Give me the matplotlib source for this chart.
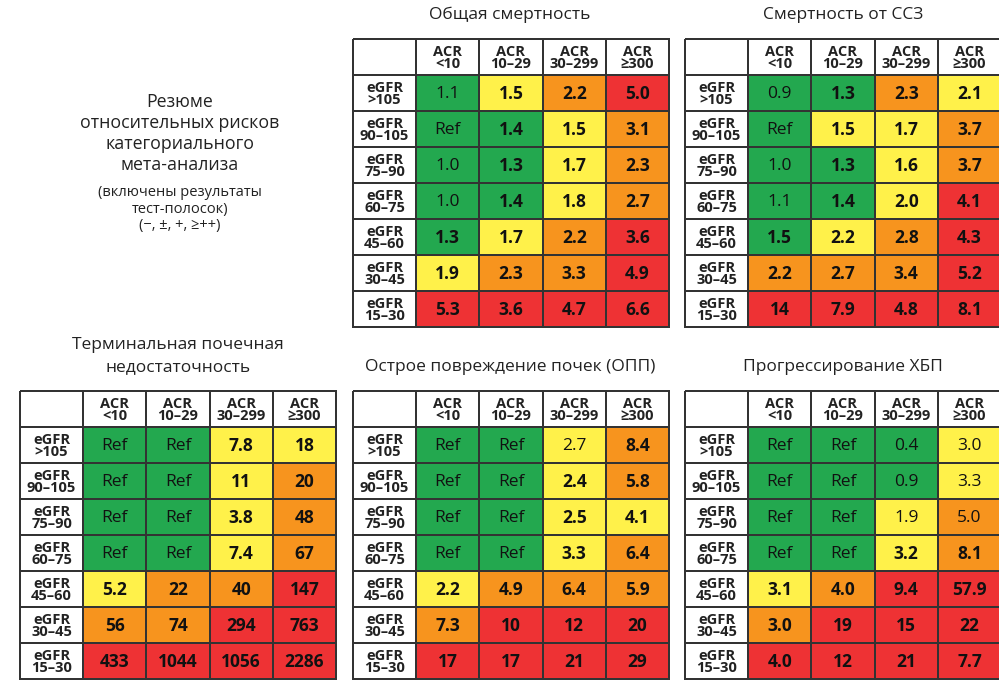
import numpy as np
import matplotlib.pyplot as plt
from matplotlib.colors import ListedColormap

plt.rcParams['font.family'] = ['Open Sans', 'DejaVu Sans']

# column / row headers
acr_labels = ['ACR\n<10', 'ACR\n10–29', 'ACR\n30–299', 'ACR\n≥300']
egfr_labels = ['eGFR\n>105', 'eGFR\n90–105', 'eGFR\n75–90', 'eGFR\n60–75',
               'eGFR\n45–60', 'eGFR\n30–45', 'eGFR\n15–30']

# Общая смертность
mort_vals = [['1.1', '1.5', '2.2', '5.0'],
             ['Ref', '1.4', '1.5', '3.1'],
             ['1.0', '1.3', '1.7', '2.3'],
             ['1.0', '1.4', '1.8', '2.7'],
             ['1.3', '1.7', '2.2', '3.6'],
             ['1.9', '2.3', '3.3', '4.9'],
             ['5.3', '3.6', '4.7', '6.6']]
mort_cols = ['GYOR', 'GGYO', 'GGYO', 'GGYO', 'GYOR', 'YOOR', 'RRRR']
mort_bold = ['0111', '0111', '0111', '0111', '1111', '1111', '1111']

# Смертность от ССЗ
cvd_vals = [['0.9', '1.3', '2.3', '2.1'],
            ['Ref', '1.5', '1.7', '3.7'],
            ['1.0', '1.3', '1.6', '3.7'],
            ['1.1', '1.4', '2.0', '4.1'],
            ['1.5', '2.2', '2.8', '4.3'],
            ['2.2', '2.7', '3.4', '5.2'],
            ['14', '7.9', '4.8', '8.1']]
cvd_cols = ['GGOY', 'GYYO', 'GGYO', 'GGYR', 'GYOR', 'OOOR', 'RRRR']
cvd_bold = ['0111', '0111', '0111', '0111', '1111', '1111', '1111']

# Терминальная почечная недостаточность
esrd_vals = [['Ref', 'Ref', '7.8', '18'],
             ['Ref', 'Ref', '11', '20'],
             ['Ref', 'Ref', '3.8', '48'],
             ['Ref', 'Ref', '7.4', '67'],
             ['5.2', '22', '40', '147'],
             ['56', '74', '294', '763'],
             ['433', '1044', '1056', '2286']]
esrd_cols = ['GGYY', 'GGYO', 'GGYO', 'GGYO', 'YOOR', 'OORR', 'RRRR']
esrd_bold = ['0011', '0011', '0011', '0011', '1111', '1111', '1111']

# Острое повреждение почек (ОПП)
aki_vals = [['Ref', 'Ref', '2.7', '8.4'],
            ['Ref', 'Ref', '2.4', '5.8'],
            ['Ref', 'Ref', '2.5', '4.1'],
            ['Ref', 'Ref', '3.3', '6.4'],
            ['2.2', '4.9', '6.4', '5.9'],
            ['7.3', '10', '12', '20'],
            ['17', '17', '21', '29']]
aki_cols = ['GGYO', 'GGYO', 'GGYY', 'GGYO', 'YOOO', 'ORRR', 'RRRR']
aki_bold = ['0001', '0011', '0011', '0011', '1111', '1111', '1111']

# Прогрессирование ХБП
ckd_vals = [['Ref', 'Ref', '0.4', '3.0'],
            ['Ref', 'Ref', '0.9', '3.3'],
            ['Ref', 'Ref', '1.9', '5.0'],
            ['Ref', 'Ref', '3.2', '8.1'],
            ['3.1', '4.0', '9.4', '57.9'],
            ['3.0', '19', '15', '22'],
            ['4.0', '12', '21', '7.7']]
ckd_cols = ['GGGY', 'GGGY', 'GGYO', 'GGYO', 'YORR', 'ORRR', 'RRRR']
ckd_bold = ['0000', '0000', '0000', '0011', '1111', '1111', '1111']

palette = {'W': '#ffffff', 'G': '#23a84f', 'Y': '#fff14a', 'O': '#f7941e', 'R': '#ee3234'}
codes = list(palette.keys())
cmap = ListedColormap(list(palette.values()))

W, H = 999, 680
fig = plt.figure(figsize=(W / 100, H / 100), dpi=100)


def draw_table(x0, y0, vals, cols, bold):
    # x0, y0 = top-left corner in pixels, table is 316 x 288
    ax = fig.add_axes([x0 / W, 1 - (y0 + 288) / H, 316 / W, 288 / H])
    grid = np.zeros((8, 5))
    for i, row in enumerate(cols):
        for j, c in enumerate(row):
            grid[i + 1, j + 1] = codes.index(c)
    mesh = ax.pcolormesh(np.arange(6), np.arange(9), grid, cmap=cmap, vmin=-0.5,
                         vmax=len(codes) - 0.5, edgecolors='#333333', linewidth=1.3)
    mesh.set_clip_on(False)
    ax.set_xlim(0, 5)
    ax.set_ylim(8, 0)
    ax.axis('off')
    for j, lab in enumerate(acr_labels):
        ax.text(j + 1.5, 0.52, lab, ha='center', va='center', fontsize=10.5,
                fontweight='bold', linespacing=0.78, color='#222222')
    for i, lab in enumerate(egfr_labels):
        ax.text(0.5, i + 1.52, lab, ha='center', va='center', fontsize=10.5,
                fontweight='bold', linespacing=0.78, color='#222222')
    for i in range(7):
        for j in range(4):
            ax.text(j + 1.5, i + 1.52, vals[i][j], ha='center', va='center',
                    fontsize=12.5, color='#111111',
                    fontweight='bold' if bold[i][j] == '1' else 'normal')


draw_table(353, 39, mort_vals, mort_cols, mort_bold)
draw_table(685, 39, cvd_vals, cvd_cols, cvd_bold)
draw_table(20, 391, esrd_vals, esrd_cols, esrd_bold)
draw_table(353, 391, aki_vals, aki_cols, aki_bold)
draw_table(685, 391, ckd_vals, ckd_cols, ckd_bold)


def label(x, y, s, size=12.5):
    fig.text(x / W, 1 - y / H, s, ha='center', va='center', fontsize=size, color='#222222')


label(510, 15, 'Общая смертность')
label(843, 15, 'Смертность от ССЗ')
label(178, 345, 'Терминальная почечная')
label(178, 367, 'недостаточность')
label(510, 367, 'Острое повреждение почек (ОПП)')
label(843, 367, 'Прогрессирование ХБП')

for k, s in enumerate(['Резюме', 'относительных рисков', 'категориального', 'мета-анализа']):
    label(180, 102 + k * 21, s, size=12.8)
for k, s in enumerate(['(включены результаты', 'тест-полосок)', '(−, ±, +, ≥++)']):
    label(180, 192 + k * 17, s, size=10.5)

fig.savefig('out.png', dpi=100)
